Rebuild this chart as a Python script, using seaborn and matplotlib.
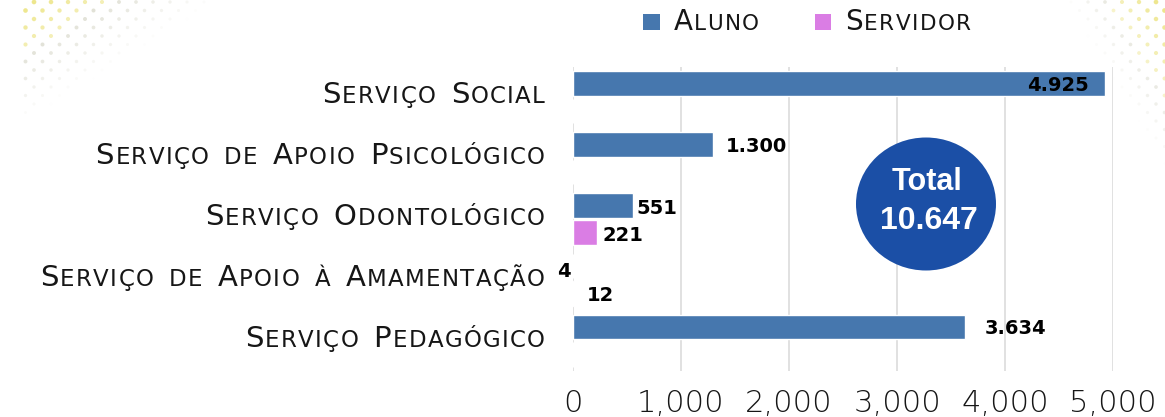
import numpy as np
import pandas as pd
import matplotlib
matplotlib.use("Agg")
import matplotlib.pyplot as plt
import seaborn as sns
from matplotlib import font_manager as fm
from matplotlib.offsetbox import TextArea, HPacker, AnnotationBbox, DrawingArea
from matplotlib.patches import Rectangle, Ellipse

# ---- data -------------------------------------------------------------
categories = [
    "Serviço Social",
    "Serviço de Apoio Psicológico",
    "Serviço Odontológico",
    "Serviço de Apoio à Amamentação",
    "Serviço Pedagógico",
]
series_names = ["Aluno", "Servidor"]
aluno = [4925, 1300, 551, 4, 3634]
servidor = [0, 0, 221, 12, 0]
x_ticks = [0, 1000, 2000, 3000, 4000, 5000]
x_tick_labels = ["0", "1,000", "2,000", "3,000", "4,000", "5,000"]
total_title = "Total"

# ---- style ------------------------------------------------------------
BLUE = "#4677ae"
PINK = "#da7de4"
CIRCLE = "#1b4fa6"
GRID = "#d9d9d9"
TEXT = "#161616"
W, H = 1165, 417


def light_font():
    for fam, wt, key in [("DejaVu Sans", 200, "Light"), ("Lato", 300, "Light"),
                         ("Open Sans", 300, "Light"), ("Noto Sans", 300, "Light")]:
        try:
            path = fm.findfont(fm.FontProperties(family=fam, weight=wt),
                               fallback_to_default=False)
        except ValueError:
            continue
        if key.lower() in path.lower():
            return fm.FontProperties(fname=path)
    return fm.FontProperties(family="DejaVu Sans")


FP_LIGHT = light_font()
FP_LABEL = fm.FontProperties(family="DejaVu Sans", weight="normal")


def thousands(v):
    return f"{v:,}".replace(",", ".")


def small_caps(text, big, small, tracking=1, word_gap=9, color=TEXT):
    """Lay out text in small capitals, one glyph per box with a little tracking."""
    kids = []
    for w_i, word in enumerate(text.split(" ")):
        if w_i:
            kids.append(DrawingArea(word_gap, 0, 0, 0))
        for ch in word:
            size = big if (ch.isupper() or ch.isdigit()) else small
            kids.append(TextArea(ch.upper(), textprops=dict(
                fontproperties=FP_LABEL, fontsize=size, color=color)))
    return HPacker(children=kids, align="baseline", pad=0, sep=tracking)


sns.set_theme(style="white")
fig = plt.figure(figsize=(W / 100, H / 100), dpi=100)
fig.patch.set_facecolor("white")

# halftone dot decoration in the upper corners
bg = fig.add_axes([0, 0, 1, 1], zorder=-5)
bg.set_xlim(0, W)
bg.set_ylim(H, 0)
bg.axis("off")
xs, ys = [], []
for r, yy in enumerate(np.arange(2, 170, 8.5)):
    off = 8.5 if r % 2 else 0
    for xx in np.arange(off, W + 17, 17):
        xs.append(xx)
        ys.append(yy)
xs, ys = np.array(xs), np.array(ys)
dl = (xs - 20) / 200 + ys / 125
dr = (W - xs) / 100 + ys / 165
cols, sizes = [], []
for d_l, d_r, xx in zip(dl, dr, xs):
    d = min(d_l if xx >= 20 else 9, d_r)
    a = max(0.0, 1 - d)
    yellow = (d_r < d_l and d_r < 0.6) or d_l < 0.45
    base = (0.90, 0.86, 0.35) if yellow else (0.72, 0.72, 0.62)
    cols.append((*base, 0.75 * a))
    sizes.append(4 + 8 * a)
bg.scatter(xs, ys, s=sizes, c=cols, linewidths=0)

# ---- bars -------------------------------------------------------------
ax = fig.add_axes([573 / W, 1 - 371 / H, 540 / W, (371 - 67) / H])
ax.set_facecolor("none")
df = pd.DataFrame({
    "categoria": categories * 2,
    "serie": [series_names[0]] * len(categories) + [series_names[1]] * len(categories),
    "valor": aluno + servidor,
})
sns.barplot(data=df, y="categoria", x="valor", hue="serie", order=categories,
            hue_order=series_names, palette=[BLUE, PINK], orient="h",
            width=0.9, gap=0.1, saturation=1, errorbar=None, legend=False,
            zorder=3, ax=ax)

ax.set_xlim(0, 5000)
ax.set_ylim(len(categories) - 0.5, -0.5)
ax.set_xticks(x_ticks)
ax.set_xticklabels(x_tick_labels, fontproperties=FP_LIGHT, fontsize=22, color=TEXT)
ax.tick_params(axis="x", length=0, pad=13)
ax.set_yticks(range(len(categories)))
ax.set_yticklabels([])
ax.tick_params(axis="y", length=0)
ax.set_xlabel("")
ax.set_ylabel("")
for s in ax.spines.values():
    s.set_visible(False)
ax.grid(axis="x", color=GRID, lw=1.1, zorder=0)
ax.grid(axis="y", visible=False)

# category labels in small caps
for i, cat in enumerate(categories):
    box = small_caps(cat, 21, 16.5)
    ab = AnnotationBbox(box, (0, i), xycoords=ax.get_yaxis_transform(),
                        xybox=(-28, 2), boxcoords="offset pixels",
                        box_alignment=(1, 0.5), frameon=False, pad=0,
                        annotation_clip=False)
    ax.add_artist(ab)

# value labels (pixel nudges per bar)
label_dx = {series_names[0]: [-16, 12, 4, -3, 19], series_names[1]: [0, 0, 6, 13, 0]}
label_dy = {series_names[0]: [-2, -2, -3, -5, -2], series_names[1]: [0, 0, -3, -2, 0]}
values = {series_names[0]: aluno, series_names[1]: servidor}
for name, cont in zip(series_names, ax.containers):
    for bar in cont:
        yc = bar.get_y() + bar.get_height() / 2
        idx = int(round(yc))
        v = values[name][idx]
        if v == 0:
            continue
        dx = label_dx[name][idx]
        ax.annotate(thousands(v), xy=(v, yc), xytext=(dx, label_dy[name][idx]),
                    textcoords="offset pixels",
                    ha="left" if dx >= 0 else "right", va="center",
                    fontfamily="DejaVu Sans", fontweight="bold", fontsize=14,
                    color="black", zorder=5, annotation_clip=False)

# total badge
total = sum(aluno) + sum(servidor)
badge = Ellipse((926 / 100, (H - 204) / 100), 1.40, 1.33, transform=fig.dpi_scale_trans,
                facecolor=CIRCLE, edgecolor="none", zorder=6, clip_on=False)
ax.add_artist(badge)
fig.text(927 / W, 1 - 182 / H, total_title, ha="center", va="center", color="white",
         fontfamily="Liberation Sans", fontweight="bold", fontsize=22, zorder=7)
fig.text(929 / W, 1 - 221 / H, thousands(total), ha="center", va="center", color="white",
         fontfamily="Liberation Sans", fontweight="bold", fontsize=23, zorder=7)


# legend
def swatch(color):
    da = DrawingArea(12, 12, 0, 0)
    da.add_artist(Rectangle((0, 0), 12, 12, facecolor=color, edgecolor="none"))
    return da


legend_items = []
for name, color in zip(series_names, [BLUE, PINK]):
    legend_items.append(HPacker(children=[swatch(color), small_caps(name, 20, 15.5)],
                                align="center", pad=0, sep=10))
legend = HPacker(children=legend_items, align="center", pad=0, sep=40)
fig.add_artist(AnnotationBbox(legend, (643, H - 22), xycoords="figure pixels",
                              box_alignment=(0, 0.5), frameon=False, pad=0))

fig.savefig("out.png", dpi=100)
